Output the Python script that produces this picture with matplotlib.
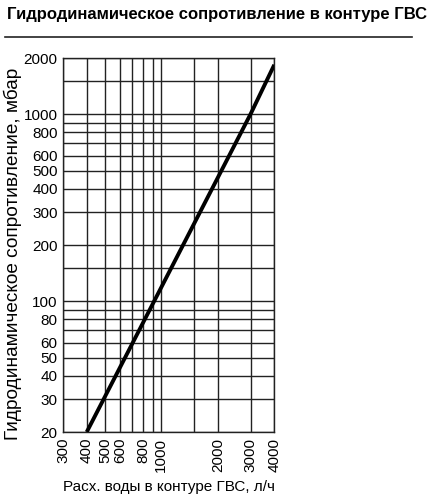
import matplotlib
matplotlib.use("Agg")
import matplotlib.pyplot as plt
from matplotlib.ticker import FixedLocator, FixedFormatter, NullLocator
from matplotlib.lines import Line2D

plt.rcParams['font.family'] = ['Liberation Sans', 'DejaVu Sans']

# Data
flow = [400, 1000, 3000, 4000]          # л/ч
resistance = [20, 119, 1010, 1840]     # мбар

x_grid = [300, 400, 500, 600, 700, 800, 900, 1000, 1500, 2000, 3000, 4000]
x_labels = [300, 400, 500, 600, 800, 1000, 2000, 3000, 4000]
y_grid = [20, 30, 40, 50, 60, 70, 80, 90, 100, 150, 200, 300, 400, 500, 600, 700, 800, 900, 1000, 1500, 2000]
y_labels = [20, 30, 40, 50, 60, 80, 100, 200, 300, 400, 500, 600, 800, 1000, 2000]

title = "Гидродинамическое сопротивление в контуре ГВС"
xlabel = "Расх. воды в контуре ГВС, л/ч"
ylabel = "Гидродинамическое сопротивление, мбар"

W, H = 438, 501
fig = plt.figure(figsize=(W / 100, H / 100), dpi=100)
ax = fig.add_axes([63.3 / W, 1 - 432 / H, (274.3 - 63.3) / W, (432 - 58) / H])

ax.set_xscale('log')
ax.set_yscale('log')
ax.set_xlim(300, 4000)
ax.set_ylim(20, 2000)

for xv in x_grid:
    ax.axvline(xv, color='#222222', lw=1.0, zorder=1)
for yv in y_grid:
    ax.axhline(yv, color='#222222', lw=1.0, zorder=1)

ax.plot(flow, resistance, color='black', lw=2.8, zorder=3, solid_capstyle='butt')

ax.xaxis.set_major_locator(FixedLocator(x_labels))
ax.xaxis.set_major_formatter(FixedFormatter([str(v) for v in x_labels]))
ax.xaxis.set_minor_locator(NullLocator())
ax.yaxis.set_major_locator(FixedLocator(y_labels))
ax.yaxis.set_major_formatter(FixedFormatter([str(v) for v in y_labels]))
ax.yaxis.set_minor_locator(NullLocator())
ax.tick_params(axis='both', length=0, labelsize=11, colors='black', pad=4)
ax.tick_params(axis='x', labelrotation=90)
for s in ax.spines.values():
    s.set_color('#222222')
    s.set_linewidth(1.0)

ax.set_xlabel(xlabel, fontsize=11, labelpad=6)
fig.text(12.5 / W, 1 - 254 / H, ylabel, fontsize=13.7, rotation=90, ha='center', va='center')

fig.text(7 / W, 1 - 15 / H, title, fontsize=12, fontweight='bold', va='center', ha='left')
fig.add_artist(Line2D([5 / W, 412 / W], [1 - 37 / H, 1 - 37 / H], color='#222222', lw=1.2,
                      transform=fig.transFigure))

fig.savefig('out.png', dpi=100, facecolor='white')
